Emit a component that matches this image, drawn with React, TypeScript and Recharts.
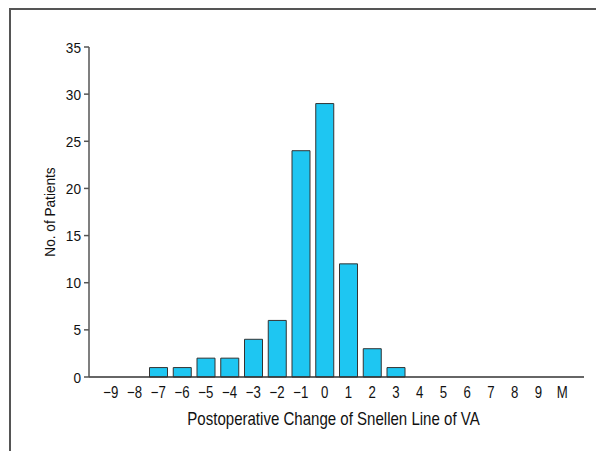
import { BarChart, Bar, XAxis, YAxis, Label } from 'recharts';

const CHANGES = ['−9', '−8', '−7', '−6', '−5', '−4', '−3', '−2', '−1', '0', '1', '2', '3', '4', '5', '6', '7', '8', '9', 'M'];
const PATIENTS = [0, 0, 1, 1, 2, 2, 4, 6, 24, 29, 12, 3, 1, 0, 0, 0, 0, 0, 0, 0];
const Y_TICKS = [0, 5, 10, 15, 20, 25, 30, 35];

const FONT = "'Liberation Sans', Arial, sans-serif";

const data = CHANGES.map((change, i) => ({ change, patients: PATIENTS[i] }));

// the original uses a condensed grotesque; squeeze Liberation Sans horizontally instead
function XTick(props: any) {
  const { x, y, payload } = props;
  return (
    <g transform={`translate(${x},${y})`}>
      <text transform="scale(0.8,1)" textAnchor="middle" dy="0.71em" fontSize={16.5} fontFamily={FONT} fill="#111">
        {payload.value}
      </text>
    </g>
  );
}

function YTick(props: any) {
  const { x, y, payload } = props;
  return (
    <g transform={`translate(${x},${y})`}>
      <text transform="scale(0.88,1)" textAnchor="end" dy="0.36em" fontSize={15.5} fontFamily={FONT} fill="#111">
        {payload.value}
      </text>
    </g>
  );
}

function XTitle(props: any) {
  const { viewBox } = props;
  const cx = viewBox.x + viewBox.width / 2 - 3;
  return (
    <g transform={`translate(${cx},${viewBox.y + 48})`}>
      <text transform="scale(0.86,1)" textAnchor="middle" fontSize={17.5} fontFamily={FONT} fill="#111">
        Postoperative Change of Snellen Line of VA
      </text>
    </g>
  );
}

function YTitle(props: any) {
  const { viewBox } = props;
  const cy = viewBox.y + viewBox.height / 2;
  return (
    <g transform={`translate(38.5,${cy}) rotate(-90)`}>
      <text transform="scale(0.88,1)" textAnchor="middle" dy="0.36em" fontSize={15.5} fontFamily={FONT} fill="#111">
        No. of Patients
      </text>
    </g>
  );
}

export default function App() {
  return (
    <div
      style={{
        width: 593,
        height: 441,
        marginLeft: 1,
        borderTop: '2px solid #555',
        borderLeft: '2px solid #555',
      }}
    >
      <BarChart
        width={593}
        height={441}
        data={data}
        margin={{ top: 37, right: 20, bottom: 24, left: 0 }}
        barSize={18}
      >
        <XAxis
          dataKey="change"
          height={50}
          padding={{ left: 10, right: 10 }}
          tickLine={false}
          tickMargin={3.5}
          axisLine={{ stroke: '#333', strokeWidth: 1.5 }}
          tick={<XTick />}
          interval={0}
        >
          <Label content={<XTitle />} />
        </XAxis>
        <YAxis
          width={78}
          domain={[0, 35]}
          ticks={Y_TICKS}
          interval={0}
          tickSize={5}
          tickMargin={3}
          axisLine={{ stroke: '#555', strokeWidth: 1.5 }}
          tickLine={{ stroke: '#555', strokeWidth: 1.5 }}
          tick={<YTick />}
        >
          <Label content={<YTitle />} />
        </YAxis>
        <Bar
          dataKey="patients"
          fill="#1EC6F2"
          stroke="#333"
          strokeWidth={1}
          isAnimationActive={false}
        />
      </BarChart>
    </div>
  );
}
